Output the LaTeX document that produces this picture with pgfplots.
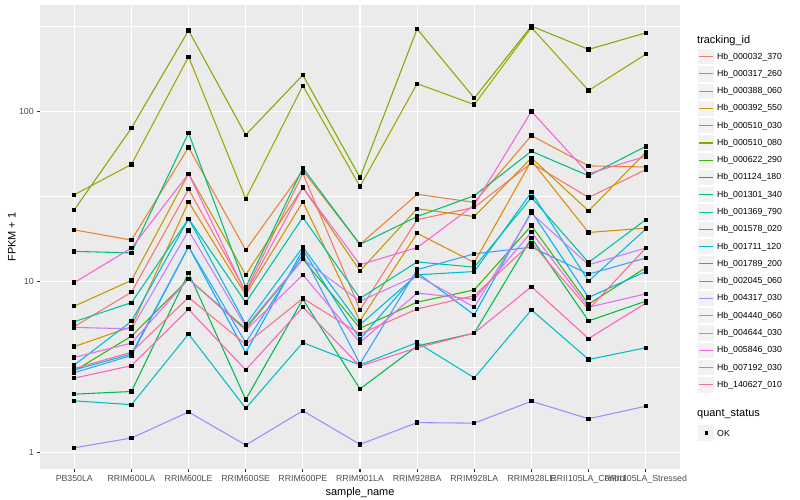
\documentclass[border=0pt]{standalone}
\usepackage{fontspec}
\setmainfont{Liberation Sans}
\usepackage{pgfplots}
\pgfplotsset{compat=1.18}
\definecolor{c01}{HTML}{F8766D}
\definecolor{c02}{HTML}{EA8331}
\definecolor{c03}{HTML}{D89000}
\definecolor{c04}{HTML}{C09B00}
\definecolor{c05}{HTML}{A3A500}
\definecolor{c06}{HTML}{7CAE00}
\definecolor{c07}{HTML}{39B600}
\definecolor{c08}{HTML}{00BB4E}
\definecolor{c09}{HTML}{00BF7D}
\definecolor{c10}{HTML}{00C1A3}
\definecolor{c11}{HTML}{00BFC4}
\definecolor{c12}{HTML}{00BAE0}
\definecolor{c13}{HTML}{00B0F6}
\definecolor{c14}{HTML}{35A2FF}
\definecolor{c15}{HTML}{9590FF}
\definecolor{c16}{HTML}{C77CFF}
\definecolor{c17}{HTML}{E76BF3}
\definecolor{c18}{HTML}{FA62DB}
\definecolor{c19}{HTML}{FF62BC}
\definecolor{c20}{HTML}{FF6C91}
\definecolor{panel}{HTML}{EBEBEB}
\definecolor{gray30}{HTML}{4D4D4D}
\definecolor{gray20}{HTML}{333333}
\definecolor{gray95}{HTML}{F2F2F2}
\begin{document}
\begin{tikzpicture}
\begin{axis}[
  at={(40bp,31bp)}, anchor=south west,
  width=640bp, height=464bp, scale only axis,
  set layers, mark layer=axis foreground,
  ymode=log,
  xmin=-0.6, xmax=10.6, ymin=0.796, ymax=423,
  axis background/.style={fill=panel},
  axis line style={draw=none},
  xtick={0,...,10},
  xticklabels={PB350LA,RRIM600LA,RRIM600LE,RRIM600SE,RRIM600PE,RRIM901LA,RRIM928BA,RRIM928LA,RRIM928LE,RRII105LA\_Control,RRII105LA\_Stressed},
  ytick={1,10,100}, yticklabels={1,10,100},
  minor ytick={3.1623,31.623,316.23},
  xmajorgrids, ymajorgrids, yminorgrids,
  major grid style={white, line width=1.07bp},
  minor grid style={white, line width=0.53bp},
  tick align=outside, xtick pos=bottom, ytick pos=left,
  major tick length=2.75bp, minor tick length=0pt,
  tick style={gray20, line width=1.07bp},
  ticklabel style={font=\fontsize{8.8}{10}\selectfont, text=gray30},
  /pgf/number format/assume math mode=true,
  xlabel={sample\_name}, ylabel={FPKM + 1},
  label style={font=\fontsize{11}{13}\selectfont},
  xlabel style={at={(axis description cs:0.5,-0.051)}, anchor=center},
  ylabel style={at={(axis description cs:-0.044,0.5)}, anchor=center},
  every axis plot/.append style={line width=1.07bp, mark=square*, mark size=1.6bp, mark options={draw=black, fill=black}},
  legend style={at={(1.027,0.9074)}, anchor=north west, draw=none, fill=none,
    inner sep=0pt, outer sep=0pt, row sep=0pt, column sep=2pt,
    font=\fontsize{8.8}{10}\selectfont,
    nodes={inner sep=0pt, anchor=west}},
  legend cell align=left,
  legend image code/.code={
    \filldraw[fill=gray95, draw=white, line width=1bp] (0bp,-8.14bp) rectangle (16.78bp,8.14bp);
    \draw[#1] (1.5bp,0bp) -- (15.3bp,0bp);
  },
]
\addplot[c01] coordinates {(0,5.46) (1,8.7) (2,35) (3,8.8) (4,43.4) (5,6.85) (6,23.2) (7,27.4) (8,49.9) (9,31.3) (10,45.6)};
\addlegendentry{Hb\_000032\_370}
\addplot[c02] coordinates {(0,20.2) (1,17.6) (2,61.6) (3,15.4) (4,45) (5,16.6) (6,32.7) (7,29.3) (8,72.3) (9,48) (10,47.3)};
\addlegendentry{Hb\_000317\_260}
\addplot[c03] coordinates {(0,4.17) (1,5.45) (2,29.5) (3,8.4) (4,29.5) (5,5.9) (6,19.3) (7,13.0) (8,51.5) (9,19.5) (10,20.7)};
\addlegendentry{Hb\_000388\_060}
\addplot[c04] coordinates {(0,7.2) (1,10.2) (2,43.2) (3,11.0) (4,35.9) (5,11.6) (6,26.9) (7,24.2) (8,53.5) (9,26.1) (10,57.6)};
\addlegendentry{Hb\_000392\_550}
\addplot[c05] coordinates {(0,32.5) (1,49) (2,210) (3,30.8) (4,142) (5,36.3) (6,146) (7,110) (8,312) (9,133) (10,217)};
\addlegendentry{Hb\_000510\_030}
\addplot[c06] coordinates {(0,26.5) (1,80) (2,300) (3,73) (4,164) (5,41) (6,306) (7,120) (8,318) (9,232) (10,290)};
\addlegendentry{Hb\_000510\_080}
\addplot[c07] coordinates {(0,3.0) (1,4.8) (2,10.4) (3,5.3) (4,13.6) (5,5.34) (6,7.6) (7,8.97) (8,21.4) (9,7.4) (10,12.1)};
\addlegendentry{Hb\_000622\_290}
\addplot[c08] coordinates {(0,2.19) (1,2.27) (2,11.3) (3,2.04) (4,7.9) (5,2.35) (6,4.2) (7,5.0) (8,18.1) (9,5.9) (10,7.7)};
\addlegendentry{Hb\_001124\_180}
\addplot[c09] coordinates {(0,15.1) (1,14.8) (2,75) (3,9.3) (4,46.7) (5,16.6) (6,24.2) (7,32.1) (8,58.5) (9,42) (10,62.5)};
\addlegendentry{Hb\_001301\_340}
\addplot[c10] coordinates {(0,5.84) (1,7.55) (2,23.5) (3,7.56) (4,23.9) (5,8.0) (6,13.1) (7,12.2) (8,31.3) (9,13.0) (10,23.2)};
\addlegendentry{Hb\_001369\_790}
\addplot[c11] coordinates {(0,2.0) (1,1.9) (2,4.94) (3,1.81) (4,4.4) (5,3.25) (6,4.4) (7,2.73) (8,6.85) (9,3.5) (10,4.1)};
\addlegendentry{Hb\_001578\_020}
\addplot[c12] coordinates {(0,3.25) (1,5.87) (2,23.5) (3,5.63) (4,16) (5,5.6) (6,11.0) (7,11.5) (8,33.6) (9,10.1) (10,20.4)};
\addlegendentry{Hb\_001711\_120}
\addplot[c13] coordinates {(0,3.04) (1,3.77) (2,16.1) (3,3.84) (4,15.4) (5,4.6) (6,11.3) (7,6.4) (8,25.9) (9,8.1) (10,11.5)};
\addlegendentry{Hb\_001789\_200}
\addplot[c14] coordinates {(0,2.93) (1,3.69) (2,16.1) (3,4.4) (4,14.5) (5,3.3) (6,11.8) (7,14.6) (8,16.0) (9,11.1) (10,13.8)};
\addlegendentry{Hb\_002045\_060}
\addplot[c15] coordinates {(0,1.06) (1,1.21) (2,1.72) (3,1.1) (4,1.75) (5,1.11) (6,1.49) (7,1.48) (8,1.99) (9,1.57) (10,1.86)};
\addlegendentry{Hb\_004317\_030}
\addplot[c16] coordinates {(0,5.4) (1,5.3) (2,20) (3,5.45) (4,13.6) (5,7.7) (6,10.9) (7,7.1) (8,25.3) (9,12.6) (10,15.8)};
\addlegendentry{Hb\_004440\_060}
\addplot[c17] coordinates {(0,3.6) (1,4.37) (2,10.4) (3,5.2) (4,11.0) (5,4.4) (6,8.6) (7,7.9) (8,19.6) (9,7.1) (10,8.5)};
\addlegendentry{Hb\_004644\_030}
\addplot[c18] coordinates {(0,9.9) (1,15.8) (2,43.2) (3,8.6) (4,35.9) (5,12.6) (6,15.9) (7,28.3) (8,100.3) (9,43.2) (10,54.6)};
\addlegendentry{Hb\_005846\_030}
\addplot[c19] coordinates {(0,2.72) (1,3.22) (2,6.9) (3,3.04) (4,7.1) (5,3.2) (6,4.1) (7,5.0) (8,9.37) (9,4.64) (10,7.5)};
\addlegendentry{Hb\_007192\_030}
\addplot[c20] coordinates {(0,3.1) (1,3.86) (2,8.1) (3,4.3) (4,8.0) (5,4.94) (6,6.93) (7,8.3) (8,17.0) (9,6.9) (10,15.8)};
\addlegendentry{Hb\_140627\_010}
\end{axis}
\node[anchor=west, inner sep=0pt, font=\fontsize{11}{13}\selectfont] at (697bp,459.5bp) {tracking\_id};
\node[anchor=west, inner sep=0pt, font=\fontsize{11}{13}\selectfont] at (697bp,86bp) {quant\_status};
\filldraw[fill=gray95, draw=white, line width=1bp] (697.8bp,58.5bp) rectangle (714.6bp,75.3bp);
\fill[black] (704.6bp,65.3bp) rectangle (707.8bp,68.5bp);
\node[anchor=west, inner sep=0pt, font=\fontsize{8.8}{10}\selectfont] at (717bp,66.9bp) {OK};
\pgfresetboundingbox
\path[use as bounding box] (0,0) rectangle (800bp,500bp);
\end{tikzpicture}
\end{document}
